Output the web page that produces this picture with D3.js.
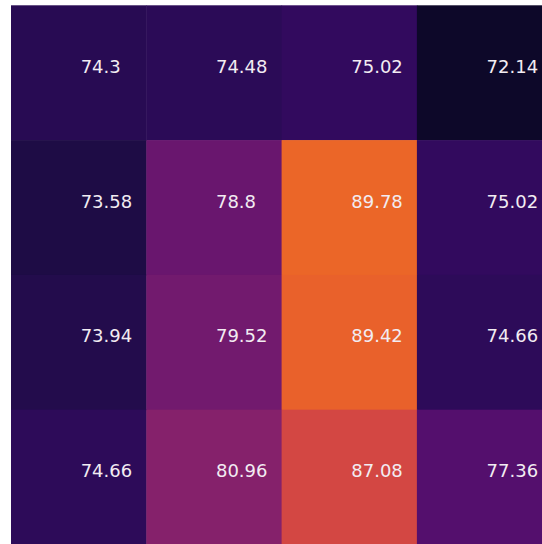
<!DOCTYPE html>
<html>
<head>
<meta charset="utf-8">
<script src="https://cdn.jsdelivr.net/npm/d3@7"></script>
<style>
  html, body { margin: 0; padding: 0; background: #fff; overflow: hidden; }
</style>
</head>
<body>
<div id="chart"></div>
<script>
// Chart size
var svgWidth = 542;
var svgHeight = 544;

// Row / column keys and cell values
var rowKeys = ["r0", "r1", "r2", "r3"];
var colKeys = ["c0", "c1", "c2", "c3"];
var row0 = [74.3, 74.48, 75.02, 72.14];
var row1 = [73.58, 78.8, 89.78, 75.02];
var row2 = [73.94, 79.52, 89.42, 74.66];
var row3 = [74.66, 80.96, 87.08, 77.36];
var rowValues = [row0, row1, row2, row3];

// Colour scale limits
var colorMin = 70;
var colorMax = 100;

// Build a flat cell table from the arrays
var cells = [];
rowValues.forEach((vals, i) => {
  vals.forEach((v, j) => {
    cells.push({ row: rowKeys[i], col: colKeys[j], value: v });
  });
});

var svg = d3.select("#chart")
  .append("svg")
  .attr("width", svgWidth)
  .attr("height", svgHeight);

// Cells run past the right and bottom edges, like the reference
var x = d3.scaleBand()
  .domain(colKeys)
  .range([11, 11 + 4 * 135.3])
  .padding(0);

var y = d3.scaleBand()
  .domain(rowKeys)
  .range([5.3, 5.3 + 4 * 134.8])
  .padding(0);

var color = d3.scaleSequential(d3.interpolateInferno)
  .domain([colorMin, colorMax]);

svg.selectAll("rect.cell")
  .data(cells)
  .enter()
  .append("rect")
  .attr("class", "cell")
  .attr("x", d => x(d.col))
  .attr("y", d => y(d.row))
  .attr("width", x.bandwidth() + 0.5)
  .attr("height", y.bandwidth() + 0.5)
  .attr("fill", d => color(d.value));

// Labels start just right of the cell centre, baseline on the centre line
svg.selectAll("text.label")
  .data(cells)
  .enter()
  .append("text")
  .attr("class", "label")
  .attr("x", d => x(d.col) + x.bandwidth() / 2 + 2)
  .attr("y", d => y(d.row) + y.bandwidth() / 2)
  .attr("text-anchor", "start")
  .style("font-family", "DejaVu Sans, sans-serif")
  .style("font-size", "18px")
  .style("fill", "#f2ecf2")
  .text(d => d.value);
</script>
</body>
</html>
